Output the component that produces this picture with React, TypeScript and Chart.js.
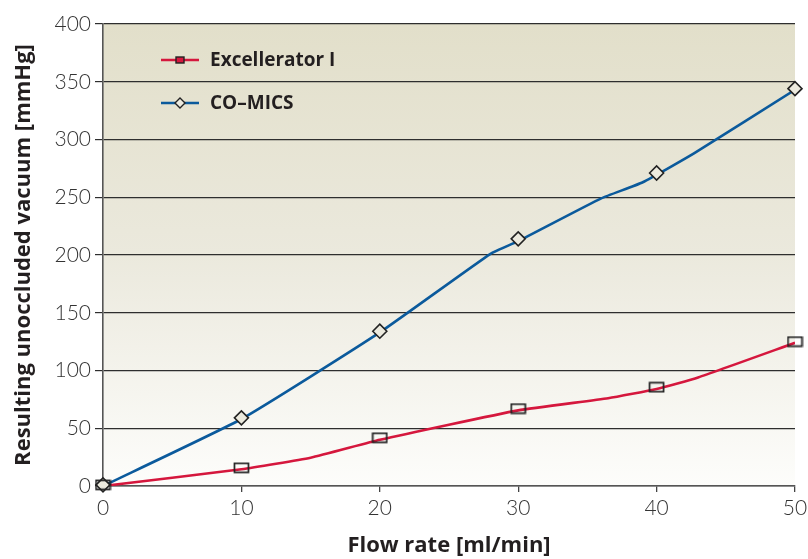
import React, { useEffect, useRef } from "react";
import { Chart, registerables } from "chart.js";

Chart.register(...registerables);

const seriesNames = ["Excellerator I", "CO\u2013MICS"];
const markerX = [0, 10, 20, 30, 40, 50];
const excMarkers = [1, 15.8, 41.8, 67, 85.5, 125];
const coMarkers = [1, 59, 134, 214, 271, 344];
const excLineX = [0, 10, 15, 20, 30, 36.5, 40, 43, 50];
const excLineY = [0, 14.5, 24.5, 40, 65.5, 76, 84, 94, 124];
const coLineX = [0, 10, 20, 28, 30, 36, 39, 42.7, 50];
const coLineY = [0, 58, 133, 201, 212, 249, 263, 288, 343];
const xTitle = "Flow rate [ml/min]";
const yTitle = "Resulting unoccluded vacuum [mmHg]";

const RED = "#D5173D";
const BLUE = "#0B5A9C";
const MARK = "#222222";
const MARK_FILL = "#ECEADE";

function makeRect(): HTMLCanvasElement {
  const c = document.createElement("canvas");
  c.width = 17;
  c.height = 12;
  const ctx = c.getContext("2d")!;
  ctx.strokeStyle = MARK;
  ctx.lineWidth = 1.7;
  ctx.strokeRect(1.5, 1.5, 14, 9);
  return c;
}

const bgPlugin = {
  id: "bgGrad",
  beforeDraw(chart: any) {
    const { ctx, chartArea } = chart;
    const g = ctx.createLinearGradient(0, chartArea.top, 0, chartArea.bottom);
    g.addColorStop(0, "#E2DFCA");
    g.addColorStop(0.5, "#EBE9DD");
    g.addColorStop(1, "#FDFDFB");
    ctx.save();
    ctx.fillStyle = g;
    ctx.fillRect(chartArea.left, chartArea.top, chartArea.right - chartArea.left, chartArea.bottom - chartArea.top);
    ctx.restore();
  },
};

const legendPlugin = {
  id: "customLegend",
  afterDraw(chart: any) {
    const ctx = chart.ctx;
    const items = [
      { name: seriesNames[0], color: RED, y: 60, kind: "rect" },
      { name: seriesNames[1], color: BLUE, y: 103, kind: "diamond" },
    ];
    ctx.save();
    for (const it of items) {
      ctx.strokeStyle = it.color;
      ctx.lineWidth = 2.5;
      ctx.beginPath();
      ctx.moveTo(161, it.y);
      ctx.lineTo(199, it.y);
      ctx.stroke();
      ctx.strokeStyle = MARK;
      ctx.lineWidth = 1.4;
      if (it.kind === "rect") {
        ctx.fillStyle = RED;
        ctx.fillRect(176, it.y - 3, 8, 6);
        ctx.strokeRect(176, it.y - 3, 8, 6);
      } else {
        ctx.fillStyle = MARK_FILL;
        ctx.beginPath();
        ctx.moveTo(180, it.y - 5);
        ctx.lineTo(185, it.y);
        ctx.lineTo(180, it.y + 5);
        ctx.lineTo(175, it.y);
        ctx.closePath();
        ctx.fill();
        ctx.stroke();
      }
      ctx.fillStyle = "#231F20";
      ctx.font = "bold 19px 'Open Sans'";
      ctx.textBaseline = "middle";
      ctx.textAlign = "left";
      ctx.fillText(it.name, 210, it.y + 1);
    }
    ctx.restore();
  },
};

export default function App() {
  const ref = useRef<HTMLCanvasElement | null>(null);
  useEffect(() => {
    document.body.style.margin = "0";
    const rectImg = makeRect();
    const chart = new Chart(ref.current!, {
      type: "line",
      data: {
        datasets: [
          {
            label: seriesNames[1] + " markers",
            data: markerX.map((x, i) => ({ x, y: coMarkers[i] })),
            showLine: false,
            pointStyle: "rectRot",
            pointRadius: 7,
            pointBorderColor: MARK,
            pointBackgroundColor: MARK_FILL,
            pointBorderWidth: 1.6,
            clip: false as any,
            order: 1,
          },
          {
            label: seriesNames[0] + " markers",
            data: markerX.map((x, i) => ({ x, y: excMarkers[i] })),
            showLine: false,
            pointStyle: rectImg as any,
            pointRadius: 6,
            clip: false as any,
            order: 0,
          },
          {
            label: seriesNames[0],
            data: excLineX.map((x, i) => ({ x, y: excLineY[i] })),
            borderColor: RED,
            borderWidth: 2.6,
            pointRadius: 0,
            tension: 0.15,
            order: 2,
          },
          {
            label: seriesNames[1],
            data: coLineX.map((x, i) => ({ x, y: coLineY[i] })),
            borderColor: BLUE,
            borderWidth: 2.6,
            pointRadius: 0,
            tension: 0.15,
            order: 2,
          },
        ],
      },
      options: {
        animation: false,
        responsive: false,
        devicePixelRatio: 1,
        layout: { padding: { top: 24, right: 13, left: 0, bottom: 0 } },
        plugins: { legend: { display: false }, tooltip: { enabled: false } },
        scales: {
          x: {
            type: "linear",
            min: 0,
            max: 50,
            ticks: {
              stepSize: 10,
              padding: 4,
              color: "#333",
              font: { family: "Lato", weight: "300", size: 21 },
            },
            grid: {
              drawOnChartArea: false,
              drawTicks: true,
              tickLength: 6,
              color: "#444",
              lineWidth: 1.3,
            },
            border: { color: "#555", width: 1.6 },
            title: {
              display: true,
              text: xTitle,
              color: "#231F20",
              font: { family: "Open Sans", weight: "bold", size: 22 },
              padding: { top: 0, bottom: 0 },
            },
            afterFit(scale: any) {
              scale.height = 73;
              scale.paddingLeft = 0;
              scale.paddingRight = 0;
            },
          },
          y: {
            min: 0,
            max: 400,
            ticks: {
              stepSize: 50,
              padding: 4,
              color: "#333",
              font: { family: "Lato", weight: "300", size: 21 },
            },
            grid: {
              color: "#2E2E2E",
              lineWidth: 1.2,
              tickLength: 8,
            },
            border: { color: "#555", width: 1.6 },
            title: {
              display: true,
              text: yTitle,
              color: "#231F20",
              font: { family: "Open Sans", weight: "bold", size: 22 },
              padding: { top: 11, bottom: 0 },
            },
            afterFit(scale: any) {
              scale.width = 103;
              scale.paddingTop = 0;
              scale.paddingBottom = 0;
            },
          },
        },
      },
      plugins: [bgPlugin, legendPlugin],
    });
    return () => chart.destroy();
  }, []);
  return (
    <div style={{ position: "absolute", left: 0, top: 0, width: 808, height: 559, background: "#fff" }}>
      <canvas ref={ref} width={808} height={559} />
    </div>
  );
}
